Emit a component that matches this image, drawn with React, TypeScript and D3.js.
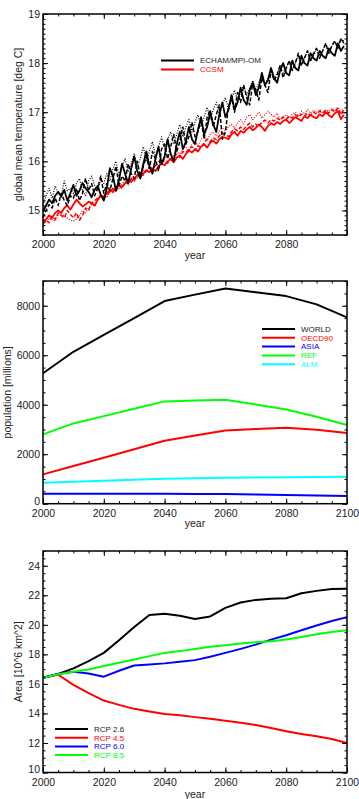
import * as d3 from 'd3';
import { useEffect, useRef } from 'react';

const width = 359;
const height = 799;
const font = '"Liberation Sans", Arial, Helvetica, sans-serif';

// ---- panel 1: global mean temperature, annual 2000-2099
const tempYears = d3.range(2000, 2100);
const echamRun1 = [
  14.98, 15.1, 15.22, 15.15, 15.3, 15.38, 15.28, 15.42, 15.2, 15.35,
  15.52, 15.3, 15.4, 15.56, 15.45, 15.38, 15.27, 15.42, 15.5, 15.32,
  15.2, 15.45, 15.86, 15.7, 15.4, 15.62, 15.95, 15.75, 15.55, 15.85,
  16.1, 15.8, 15.65, 15.95, 16.2, 15.9, 15.75, 16.05, 16.3, 15.95,
  16.1, 16.45, 16.15, 16.0, 16.35, 16.6, 16.25, 16.4, 16.7, 16.45,
  16.35, 16.65, 16.9, 16.55, 16.7, 17.0, 16.75, 16.6, 16.95, 17.2,
  16.9, 17.05, 17.35, 17.05, 17.2, 17.5, 17.25, 17.15, 17.45, 17.6,
  17.35, 17.5, 17.8, 17.55, 17.65, 17.9, 17.7, 17.6, 17.85, 18.0,
  17.8, 17.75, 18.05, 17.9, 17.85, 18.15, 18.0, 17.95, 18.2, 18.1,
  18.05, 18.25, 18.15, 18.1, 18.3, 18.2, 18.15, 18.4, 18.25, 18.35,
];
const echamRun2 = [
  14.85, 15.0, 15.12, 15.05, 15.25, 15.1, 15.35, 15.2, 15.1, 15.3,
  15.25, 15.45, 15.2, 15.35, 15.65, 15.4, 15.55, 15.3, 15.45, 15.7,
  15.35, 15.55, 15.4, 15.65, 15.9, 15.5, 15.7, 15.6, 15.95, 15.75,
  15.65, 16.0, 15.7, 15.9, 16.1, 15.85, 16.2, 16.05, 15.8, 16.25,
  16.35, 16.05, 16.3, 16.55, 16.2, 16.4, 16.7, 16.35, 16.5, 16.8,
  16.5, 16.6, 16.85, 16.45, 16.9, 17.05, 16.7, 16.95, 17.15, 16.45,
  16.6, 17.1, 17.3, 17.0, 17.4, 17.2, 17.55, 17.3, 17.15, 17.6,
  17.45, 17.25, 17.7, 17.55, 17.4, 17.85, 17.65, 17.75, 17.95, 17.7,
  17.9, 18.05, 17.85, 18.0, 18.2, 17.95, 18.1, 18.25, 18.05, 18.2,
  18.3, 18.1, 18.25, 18.4, 18.2, 18.35, 18.45, 18.3, 18.5, 18.4,
];
const echamRun3 = [
  15.1, 15.3, 15.45, 15.25, 15.5, 15.35, 15.3, 15.6, 15.4, 15.45,
  15.35, 15.55, 15.65, 15.4, 15.3, 15.6, 15.7, 15.5, 15.4, 15.65,
  15.55, 15.75, 15.6, 15.85, 16.0, 15.7, 15.9, 16.05, 15.8, 15.95,
  16.15, 15.9, 16.05, 16.3, 16.0, 16.2, 16.4, 16.1, 16.3, 16.5,
  16.25, 16.45, 16.6, 16.35, 16.55, 16.75, 16.5, 16.7, 16.85, 16.6,
  16.8, 16.95, 16.7, 16.9, 17.1, 16.85, 17.05, 17.2, 16.95, 17.15,
  17.3, 17.05, 17.25, 17.45, 17.2, 17.4, 17.55, 17.35, 17.5, 17.65,
  17.45, 17.6, 17.75, 17.55, 17.7, 17.85, 17.65, 17.8, 17.95, 17.8,
  17.9, 18.05, 17.85, 18.0, 18.15, 17.95, 18.1, 18.25, 18.05, 18.15,
  18.3, 18.15, 18.25, 18.4, 18.2, 18.35, 18.45, 18.3, 18.5, 18.45,
];
const ccsmRun1 = [
  14.78, 14.82, 14.9, 14.85, 14.95, 15.0, 14.95, 15.05, 15.1, 15.02,
  15.12, 15.22, 15.15, 15.08, 15.12, 15.18, 15.15, 15.1, 15.22, 15.3,
  15.28, 15.35, 15.42, 15.38, 15.45, 15.52, 15.48, 15.55, 15.62, 15.58,
  15.65, 15.72, 15.68, 15.75, 15.82, 15.78, 15.85, 15.8, 15.9, 15.95,
  15.92, 16.0, 16.05, 15.98, 16.08, 16.12, 16.05, 16.15, 16.22, 16.18,
  16.25, 16.2, 16.3, 16.35, 16.28, 16.38, 16.42, 16.36, 16.45, 16.5,
  16.48, 16.45, 16.55, 16.6, 16.52, 16.62, 16.58, 16.65, 16.7, 16.63,
  16.68, 16.75, 16.7, 16.62, 16.72, 16.78, 16.74, 16.8, 16.76, 16.82,
  16.85, 16.78, 16.84, 16.9, 16.86, 16.82, 16.92, 16.88, 16.95, 16.9,
  16.88, 16.96, 16.92, 17.0, 16.94, 16.9, 16.98, 17.02, 16.86, 16.95,
];
const ccsmRun2 = [
  14.72, 14.8, 14.75, 14.88, 14.82, 14.95, 14.9, 14.85, 15.0, 14.92,
  14.85, 14.95, 14.8, 14.9, 15.05, 15.0, 15.15, 15.2, 15.25, 15.32,
  15.25, 15.3, 15.38, 15.45, 15.4, 15.5, 15.45, 15.58, 15.55, 15.65,
  15.6, 15.7, 15.78, 15.72, 15.8, 15.88, 15.85, 15.92, 15.88, 15.98,
  16.02, 15.96, 16.05, 16.1, 16.15, 16.08, 16.2, 16.18, 16.25, 16.3,
  16.22, 16.32, 16.28, 16.38, 16.45, 16.4, 16.48, 16.44, 16.52, 16.58,
  16.55, 16.5, 16.6, 16.66, 16.62, 16.7, 16.65, 16.72, 16.78, 16.7,
  16.76, 16.7, 16.8, 16.84, 16.78, 16.85, 16.82, 16.88, 16.84, 16.9,
  16.86, 16.92, 16.88, 16.95, 16.9, 16.96, 16.92, 16.98, 16.94, 17.0,
  16.96, 17.02, 16.98, 17.04, 16.98, 17.05, 17.0, 17.08, 16.95, 17.05,
];
const ccsmRun3 = [
  14.8, 14.75, 14.85, 14.82, 14.78, 14.9, 14.95, 14.88, 14.85, 14.8,
  14.78, 14.82, 14.9, 15.0, 14.95, 15.05, 15.12, 15.08, 15.2, 15.28,
  15.32, 15.26, 15.4, 15.36, 15.48, 15.44, 15.55, 15.6, 15.52, 15.65,
  15.7, 15.66, 15.75, 15.82, 15.78, 15.9, 15.86, 15.95, 16.0, 15.94,
  16.05, 16.1, 16.02, 16.12, 16.2, 16.15, 16.25, 16.3, 16.22, 16.35,
  16.4, 16.32, 16.45, 16.5, 16.42, 16.55, 16.6, 16.52, 16.62, 16.68,
  16.62, 16.7, 16.75, 16.68, 16.78, 16.85, 16.76, 16.9, 16.95, 16.85,
  16.92, 17.0, 16.88, 16.95, 17.02, 16.96, 16.9, 16.98, 16.85, 16.92,
  16.95, 16.88, 16.96, 17.0, 16.92, 17.02, 16.96, 17.05, 16.98, 17.04,
  17.0, 17.06, 16.98, 17.05, 17.02, 17.08, 17.04, 17.1, 17.0, 17.08,
];

// ---- panel 2: population [millions]
const popYears = [2000, 2010, 2020, 2030, 2040, 2050, 2060, 2070, 2080, 2090, 2100];
const popWorld = [5270, 6140, 6820, 7500, 8190, 8450, 8700, 8550, 8390, 8055, 7530];
const popOecd90 = [1185, 1520, 1860, 2200, 2545, 2760, 2960, 3020, 3070, 2990, 2855];
const popAsia = [400, 400, 400, 400, 398, 395, 390, 370, 350, 330, 310];
const popRef = [2800, 3245, 3540, 3840, 4135, 4170, 4200, 4010, 3810, 3515, 3180];
const popAlm = [850, 890, 930, 970, 1010, 1030, 1050, 1060, 1070, 1080, 1090];

// ---- panel 3: area [10^6 km^2]
const areaYears = [2000, 2005, 2010, 2015, 2020, 2025, 2030, 2035, 2040, 2045, 2050,
  2055, 2060, 2065, 2070, 2075, 2080, 2085, 2090, 2095, 2100];
const rcp26 = [16.42, 16.67, 17.05, 17.54, 18.1, 18.96, 19.85, 20.66, 20.75, 20.61, 20.39,
  20.57, 21.15, 21.51, 21.69, 21.76, 21.8, 22.14, 22.3, 22.43, 22.45];
const rcp45 = [16.42, 16.62, 15.93, 15.37, 14.87, 14.58, 14.31, 14.13, 13.96, 13.87, 13.75,
  13.64, 13.51, 13.37, 13.22, 13.01, 12.79, 12.61, 12.45, 12.27, 12.0];
const rcp60 = [16.42, 16.67, 16.83, 16.71, 16.49, 16.89, 17.25, 17.32, 17.39, 17.5, 17.61,
  17.84, 18.1, 18.37, 18.66, 19.0, 19.29, 19.63, 19.96, 20.26, 20.52];
const rcp85 = [16.42, 16.65, 16.83, 16.98, 17.21, 17.43, 17.65, 17.88, 18.1, 18.22, 18.37,
  18.51, 18.62, 18.74, 18.82, 18.89, 19.0, 19.18, 19.36, 19.52, 19.63];

type Series = { xs: number[]; ys: number[]; color: string; w: number; dash?: string };
type Legend = { label: string; color: string; text: string };

interface PanelProps {
  top: number;
  bottom: number;
  yDomain: [number, number];
  yMajor: number[];
  yMinorStep: number;
  xLabels: number[];
  yLabel: string;
  yLabelX: number;
  xTitleY: number;
  series: Series[];
  legend: Legend[];
  legendX: number;
  legendY: number;
  legendStep: number;
}

const left = 43;
const right = 347;

function Panel(p: PanelProps) {
  const axRef = useRef<SVGGElement>(null);
  const x = d3.scaleLinear().domain([2000, 2100]).range([left, right]);
  const y = d3.scaleLinear().domain(p.yDomain).range([p.bottom, p.top]);

  useEffect(() => {
    const g = d3.select(axRef.current);
    g.selectAll('*').remove();
    const xMajor = d3.range(2000, 2101, 20);
    const xMinor = d3.range(2000, 2101, 5);
    const n = Math.round((p.yDomain[1] - p.yDomain[0]) / p.yMinorStep);
    const yMinor = d3.range(0, n + 1).map((i) => +(p.yDomain[0] + i * p.yMinorStep).toFixed(4));
    const none = () => '';
    const add = (axis: any, tr: string) => g.append('g').attr('transform', tr).call(axis);

    add(d3.axisBottom(x).tickValues(xMinor).tickSize(-2.5).tickFormat(none), `translate(0,${p.bottom})`);
    add(
      d3.axisBottom(x).tickValues(xMajor).tickSize(-5).tickPadding(6)
        .tickFormat((d) => (p.xLabels.includes(+d) ? String(d) : '')),
      `translate(0,${p.bottom})`
    );
    add(d3.axisTop(x).tickValues(xMinor).tickSize(-2.5).tickFormat(none), `translate(0,${p.top})`);
    add(d3.axisTop(x).tickValues(xMajor).tickSize(-5).tickFormat(none), `translate(0,${p.top})`);
    add(d3.axisLeft(y).tickValues(yMinor).tickSize(-2.5).tickFormat(none), `translate(${left},0)`);
    const yAx = add(
      d3.axisLeft(y).tickValues(p.yMajor).tickSize(-5).tickPadding(3).tickFormat((d) => String(d)),
      `translate(${left},0)`
    );
    add(d3.axisRight(y).tickValues(yMinor).tickSize(-2.5).tickFormat(none), `translate(${right},0)`);
    add(d3.axisRight(y).tickValues(p.yMajor).tickSize(-5).tickFormat(none), `translate(${right},0)`);

    g.selectAll('.domain').remove();
    g.selectAll('.tick line').attr('stroke', '#000').attr('stroke-width', 1);
    g.selectAll('g').attr('font-size', null).attr('font-family', null);
    g.selectAll('.tick text').attr('fill', '#222').attr('font-size', 10.5).attr('font-family', font);
    // lowest y label sits a bit above its tick, clear of the year labels
    yAx.selectAll<SVGTextElement, number>('.tick text')
      .filter((d) => d === p.yDomain[0])
      .attr('y', -3);
  }, []);

  const line = d3.line<[number, number]>().x((d) => x(d[0])).y((d) => y(d[1]));
  const midX = (left + right) / 2;
  const midY = (p.top + p.bottom) / 2;

  return (
    <g>
      {p.series.map((s, i) => (
        <path
          key={i}
          d={line(s.xs.map((v, j) => [v, s.ys[j]])) || ''}
          fill="none"
          stroke={s.color}
          strokeWidth={s.w}
          strokeDasharray={s.dash}
          strokeLinejoin="round"
        />
      ))}
      <rect x={left} y={p.top} width={right - left} height={p.bottom - p.top}
        fill="none" stroke="#000" strokeWidth={1.5} />
      <g ref={axRef} />
      {p.legend.map((l, i) => {
        const ly = p.legendY + i * p.legendStep;
        return (
          <g key={l.label}>
            <line x1={p.legendX} x2={p.legendX + 33} y1={ly} y2={ly} stroke={l.color} strokeWidth={2} />
            <text x={p.legendX + 39} y={ly} dy="0.35em" fontSize={8} fill={l.text} fontFamily={font}>
              {l.label}
            </text>
          </g>
        );
      })}
      <text x={midX} y={p.xTitleY} textAnchor="middle" fontSize={10.5} fill="#222" fontFamily={font}>
        year
      </text>
      <text
        transform={`translate(${p.yLabelX},${midY}) rotate(-90)`}
        textAnchor="middle"
        dy="0.35em"
        fontSize={10.5}
        fill="#222"
        fontFamily={font}
      >
        {p.yLabel}
      </text>
    </g>
  );
}

export default function App() {
  return (
    <svg width={width} height={height} style={{ position: 'absolute', left: 0, top: 0, background: '#fff' }}>
      <Panel
        top={14}
        bottom={235}
        yDomain={[14.5, 19]}
        yMajor={[15, 16, 17, 18, 19]}
        yMinorStep={0.1}
        xLabels={[2000, 2020, 2040, 2060, 2080]}
        yLabel="global mean temperature [deg C]"
        yLabelX={18}
        xTitleY={259}
        series={[
          { xs: tempYears, ys: ccsmRun3, color: '#ff0000', w: 1.2, dash: '1,1.5' },
          { xs: tempYears, ys: ccsmRun2, color: '#ff0000', w: 1.5, dash: '4,2' },
          { xs: tempYears, ys: ccsmRun1, color: '#ff0000', w: 1.8 },
          { xs: tempYears, ys: echamRun3, color: '#000', w: 1.2, dash: '1,1.5' },
          { xs: tempYears, ys: echamRun2, color: '#000', w: 1.5, dash: '4,2' },
          { xs: tempYears, ys: echamRun1, color: '#000', w: 1.8 },
        ]}
        legend={[
          { label: 'ECHAM/MPI-OM', color: '#000', text: '#222' },
          { label: 'CCSM', color: '#ff0000', text: '#ff0000' },
        ]}
        legendX={161}
        legendY={60.5}
        legendStep={9}
      />
      <Panel
        top={281}
        bottom={503.7}
        yDomain={[0, 9000]}
        yMajor={[0, 2000, 4000, 6000, 8000]}
        yMinorStep={500}
        xLabels={[2000, 2020, 2040, 2060, 2080, 2100]}
        yLabel="population [millions]"
        yLabelX={7}
        xTitleY={527}
        series={[
          { xs: popYears, ys: popWorld, color: '#000', w: 2 },
          { xs: popYears, ys: popOecd90, color: '#ff0000', w: 2 },
          { xs: popYears, ys: popAsia, color: '#0000ff', w: 2 },
          { xs: popYears, ys: popRef, color: '#00ff00', w: 2 },
          { xs: popYears, ys: popAlm, color: '#00ffff', w: 2 },
        ]}
        legend={[
          { label: 'WORLD', color: '#000', text: '#222' },
          { label: 'OECD90', color: '#ff0000', text: '#ff0000' },
          { label: 'ASIA', color: '#0000ff', text: '#0000ff' },
          { label: 'REF', color: '#00ff00', text: '#00ff00' },
          { label: 'ALM', color: '#00ffff', text: '#00ffff' },
        ]}
        legendX={262}
        legendY={329}
        legendStep={8.8}
      />
      <Panel
        top={551}
        bottom={772.5}
        yDomain={[10, 25]}
        yMajor={[10, 12, 14, 16, 18, 20, 22, 24]}
        yMinorStep={0.5}
        xLabels={[2000, 2020, 2040, 2060, 2080, 2100]}
        yLabel="Area  [10^6 km^2]"
        yLabelX={18}
        xTitleY={798}
        series={[
          { xs: areaYears, ys: rcp26, color: '#000', w: 2 },
          { xs: areaYears, ys: rcp45, color: '#ff0000', w: 2 },
          { xs: areaYears, ys: rcp60, color: '#0000ff', w: 2 },
          { xs: areaYears, ys: rcp85, color: '#00ff00', w: 2 },
        ]}
        legend={[
          { label: 'RCP 2.6', color: '#000', text: '#222' },
          { label: 'RCP 4.5', color: '#ff0000', text: '#ff0000' },
          { label: 'RCP 6.0', color: '#0000ff', text: '#0000ff' },
          { label: 'RCP 8.5', color: '#00ff00', text: '#00ff00' },
        ]}
        legendX={55}
        legendY={729}
        legendStep={8.7}
      />
    </svg>
  );
}
